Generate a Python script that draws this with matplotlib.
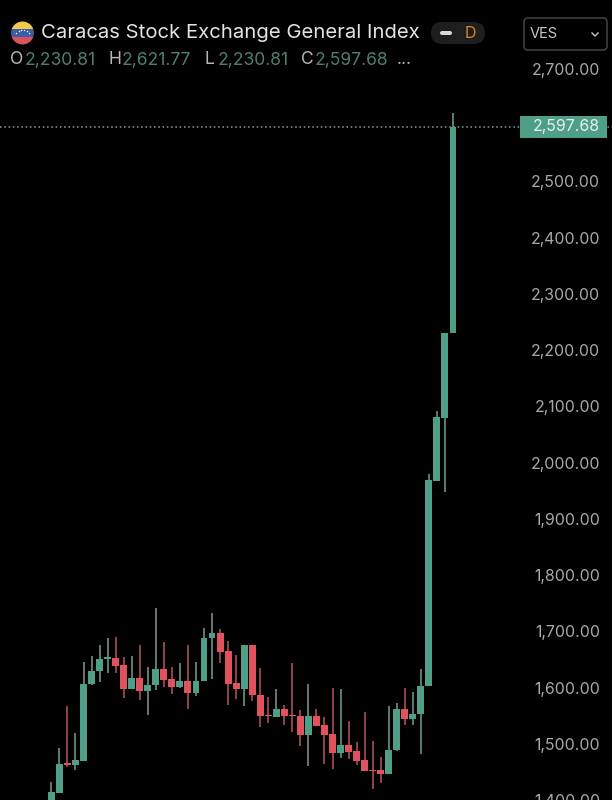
import numpy as np
import matplotlib.pyplot as plt
from matplotlib.patches import Circle, FancyBboxPatch, Rectangle

plt.rcParams['font.family'] = ['Inter', 'DejaVu Sans']

GREEN = '#4f9f88'
RED = '#e0525e'
GREEN_WICK = '#71978c'
RED_WICK = '#b4525c'

opens = [1382, 1413, 1465, 1461.7, 1470, 1605.7, 1629.5, 1651.4, 1652, 1639.5,
         1597.4, 1617.6, 1593.3, 1604.6, 1632.4, 1615.2, 1600.4, 1611.7, 1590.3, 1611.7,
         1687.5, 1696.4, 1665, 1608, 1596.8, 1675.7, 1587.4, 1550.6, 1547.6, 1561.3,
         1550.6, 1549.4, 1515.6, 1550, 1533.4, 1517.4, 1483.6, 1497.3, 1487.8, 1471,
         1454, 1452.8, 1446.9, 1488.4, 1562.5, 1544.7, 1552.4, 1602.8, 1967.3, 2080, 2230.81]
closes = [1413.7, 1463.5, 1462, 1470.6, 1607, 1629.5, 1650.8, 1653.8, 1638.3, 1597.4,
          1617.6, 1593.3, 1604.6, 1632.4, 1614, 1600.4, 1611.7, 1590.3, 1611.7, 1688.1,
          1696.4, 1663.8, 1607, 1596.8, 1675.7, 1586.8, 1548.8, 1548.8, 1561.3, 1548.8,
          1548.8, 1515.6, 1549.4, 1532.2, 1516.2, 1483.6, 1497.3, 1486, 1469.4, 1451.6,
          1452.2, 1446.3, 1488.4, 1562.5, 1544.7, 1553, 1603.4, 1969, 2080.6, 2230, 2597.68]
highs = [1432.6, 1492, 1567.8, 1518.6, 1646, 1656.7, 1675.7, 1688.7, 1690.5, 1655,
         1656.7, 1675.7, 1637.2, 1742, 1681.6, 1636, 1643, 1675.7, 1645.5, 1705.3,
         1732, 1703.5, 1683.4, 1657.9, 1675.7, 1675.7, 1634.2, 1583.8, 1597.4, 1569,
         1644.3, 1560, 1605.7, 1561.3, 1547, 1599.8, 1597.4, 1540.5, 1503.8, 1557.1,
         1505.5, 1475.9, 1567.8, 1572, 1599.8, 1592.7, 1633, 1979.8, 2092.4, 2230.81, 2621.77]
lows = [1370, 1413, 1458, 1453.4, 1470, 1605, 1610.5, 1626.5, 1625.3, 1580.8,
        1597, 1577.9, 1551.2, 1595.7, 1600.4, 1588.5, 1600, 1562.5, 1585.6, 1611,
        1614.6, 1643, 1568.4, 1579.6, 1567.2, 1576.1, 1530.5, 1537.6, 1547, 1533.4,
        1520.4, 1496, 1460.5, 1532, 1463.5, 1454.6, 1474.1, 1472.4, 1462.3, 1451,
        1420.2, 1430.9, 1446, 1488, 1534, 1533.4, 1481.3, 1602, 1967, 1948, 2230.81]

yticks = [1400, 1500, 1600, 1700, 1800, 1900, 2000, 2100, 2200, 2300, 2400, 2500, 2700]
last_price = 2597.68
ohlc_labels = [('O', '2,230.81', 10, 25), ('H', '2,621.77', 108, 122),
               ('L', '2,230.81', 205, 218), ('C', '2,597.68', 301, 315)]

fig = plt.figure(figsize=(6.12, 8), dpi=100, facecolor='black')
ax = fig.add_axes([0, 0, 1, 1], facecolor='black')

x = np.arange(len(opens))
opens = np.array(opens)
closes = np.array(closes)
up = closes >= opens

ax.vlines(x, lows, highs, colors=[GREEN_WICK if u else RED_WICK for u in up], lw=1.15, zorder=2)
ax.bar(x, np.abs(closes - opens), bottom=np.minimum(opens, closes), width=0.86,
       color=[GREEN if u else RED for u in up], linewidth=0, zorder=3)

ax.axhline(last_price, color='#8f9f99', lw=1.1, ls=(0, (1, 1.8)), zorder=1)

ax.set_xlim(-6.4, 69.8)
ax.set_ylim(1400, 2822.7)
ax.set_xticks([])
ax.set_yticks(yticks)
ax.set_yticklabels([f'{v:,.2f}' for v in yticks], ha='right', va='center_baseline')
ax.yaxis.tick_right()
ax.tick_params(axis='y', length=0, pad=-8.6, labelsize=11.4, labelcolor='#a9a9a9')
for s in ax.spines.values():
    s.set_visible(False)

# header, price tag and flag sit on a pixel sized overlay
ov = fig.add_axes([0, 0, 1, 1])
ov.set_xlim(0, 612)
ov.set_ylim(800, 0)
ov.axis('off')

ov.add_patch(Rectangle((520, 116), 87, 22, color=GREEN, lw=0))
ov.text(600, 126.5, f'{last_price:,.2f}', color='#e8f2ee', fontsize=11.4, ha='right', va='center')

ov.add_patch(FancyBboxPatch((524, 18), 83, 32, boxstyle='round,pad=0,rounding_size=4',
                            fc='black', ec='#4a4a4a', lw=1))
ov.text(530, 34, 'VES', color='#c8c8c8', fontsize=10.5, va='center')
ov.plot([592, 595, 598], [33, 36, 33], color='#c8c8c8', lw=1)

clip = Circle((22.5, 33), 11.5, transform=ov.transData)
for y0, h, c in [(21, 7.5, '#f2c94c'), (28.5, 8, '#3a5fa8'), (36.5, 8, '#d9525c')]:
    r = ov.add_patch(Rectangle((10, y0), 25, h, color=c, lw=0))
    r.set_clip_path(clip)
ov.scatter([16, 18.5, 21, 24, 26.5, 29], [33, 31, 30, 30, 31, 33], s=1, color='white', lw=0)

ov.text(41, 33, 'Caracas Stock Exchange General Index', color='#e4e4e4', fontsize=14.6, va='center')

ov.add_patch(FancyBboxPatch((431, 22), 54, 22, boxstyle='round,pad=0,rounding_size=11',
                            fc='#1e1e1e', ec='none'))
ov.add_patch(FancyBboxPatch((440, 31), 12, 4, boxstyle='round,pad=0,rounding_size=2',
                            fc='#d8d8d8', ec='none'))
ov.text(470, 33, 'D', color='#d9822b', fontsize=11.5, ha='center', va='center')

for letter, val, x_letter, x_val in ohlc_labels:
    ov.text(x_letter, 60, letter, color='#b8b8b8', fontsize=12.6, va='center')
    ov.text(x_val, 60, val, color='#4f7f71', fontsize=12.6, va='center')
ov.text(397, 60, '...', color='#b8b8b8', fontsize=12.6, va='center')

fig.savefig('out.png', dpi=100, facecolor='black')
